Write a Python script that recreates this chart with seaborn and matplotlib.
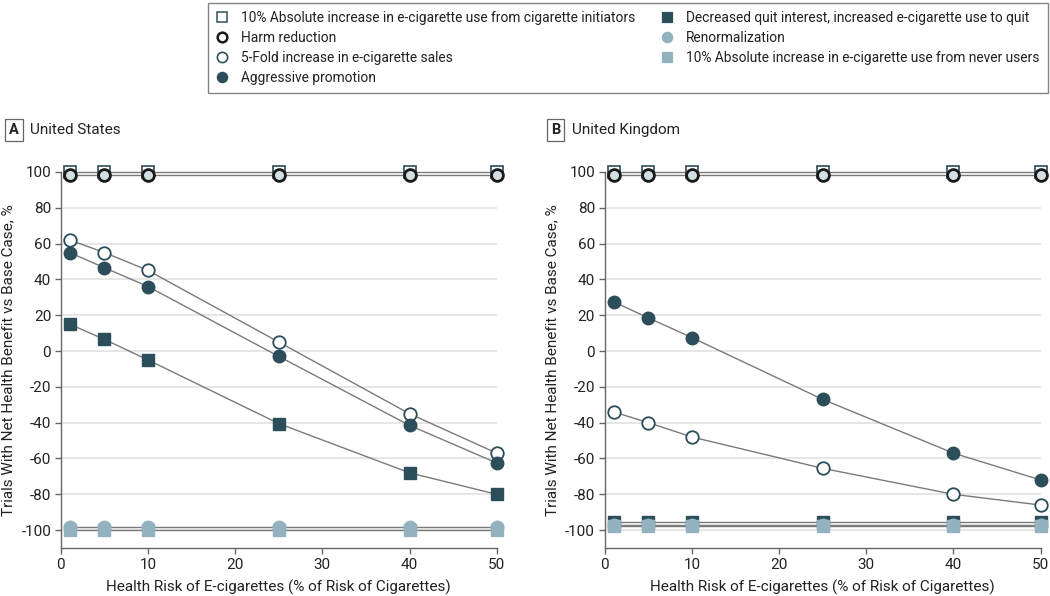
import matplotlib
matplotlib.use("Agg")
import matplotlib.pyplot as plt
from matplotlib.lines import Line2D
from matplotlib.patches import Rectangle
import seaborn as sns
import pandas as pd

# ---------------- data ----------------
risk = [1, 5, 10, 25, 40, 50]

series_names = [
    "10% Absolute increase in e-cigarette use from cigarette initiators",
    "Harm reduction",
    "5-Fold increase in e-cigarette sales",
    "Aggressive promotion",
    "Decreased quit interest, increased e-cigarette use to quit",
    "Renormalization",
    "10% Absolute increase in e-cigarette use from never users",
]

us_initiators = [100, 100, 100, 100, 100, 100]
us_harm = [98.5, 98.5, 98.5, 98.5, 98.5, 98.5]
us_fivefold = [62, 55, 45, 5, -35, -57]
us_aggressive = [55, 46.5, 36, -3, -41.5, -62.5]
us_decreased = [15, 6.5, -5, -40.5, -68, -80]
us_renorm = [-98, -98, -98, -98, -98, -98]
us_never = [-100, -100, -100, -100, -100, -100]

uk_initiators = [100, 100, 100, 100, 100, 100]
uk_harm = [98.5, 98.5, 98.5, 98.5, 98.5, 98.5]
uk_fivefold = [-34, -40, -48, -65.5, -80, -86]
uk_aggressive = [27.5, 18.5, 7.5, -27, -57, -72]
uk_decreased = [-95.5, -95.5, -95.5, -95.5, -95.5, -95.5]
uk_renorm = [-97, -97, -97, -97, -97, -97]
uk_never = [-97.5, -97.5, -97.5, -97.5, -97.5, -97.5]

panel_letters = ["A", "B"]
panel_titles = ["United States", "United Kingdom"]
x_ticks = [0, 10, 20, 30, 40, 50]
y_ticks = [-100, -80, -60, -40, -20, 0, 20, 40, 60, 80, 100]
x_label = "Health Risk of E-cigarettes (% of Risk of Cigarettes)"
y_label = "Trials With Net Health Benefit vs Base Case, %"

# ---------------- style ----------------
DARK = "#2c4d5a"
LIGHT = "#93b2bf"
LINE = "#7a7a7a"
TEXT = "#222222"

sns.set_style("white")
plt.rcParams["font.family"] = ["Roboto", "DejaVu Sans"]

styles = [
    dict(marker="s", mfc="white", mec=DARK, ms=8.0, mew=1.2),     # initiators
    dict(marker="o", mfc="#d3dfe4", mec="#1a1a1a", ms=8.5, mew=2.0),  # harm
    dict(marker="o", mfc="white", mec=DARK, ms=9.0, mew=1.3),     # 5-fold
    dict(marker="o", mfc=DARK, mec=DARK, ms=9.0, mew=1.0),        # aggressive
    dict(marker="s", mfc=DARK, mec=DARK, ms=8.5, mew=1.0),        # decreased
    dict(marker="o", mfc=LIGHT, mec=LIGHT, ms=9.0, mew=1.0),      # renorm
    dict(marker="s", mfc=LIGHT, mec=LIGHT, ms=8.5, mew=1.0),      # never users
]
draw_order = [0, 4, 6, 5, 1, 2, 3]

fig = plt.figure(figsize=(10.5, 5.96), dpi=100)
ax_pos = [[0.058, 0.0805, 0.415, 0.631], [0.576, 0.0805, 0.415, 0.631]]

panels = [
    [us_initiators, us_harm, us_fivefold, us_aggressive, us_decreased, us_renorm, us_never],
    [uk_initiators, uk_harm, uk_fivefold, uk_aggressive, uk_decreased, uk_renorm, uk_never],
]

for p, (vals, pos) in enumerate(zip(panels, ax_pos)):
    ax = fig.add_axes(pos)
    for yv in y_ticks:
        ax.axhline(yv, color="#e2e2e2", lw=1.2, zorder=0)
    for z, i in enumerate(draw_order):
        df = pd.DataFrame({"x": risk, "y": vals[i]})
        st = styles[i]
        sns.lineplot(data=df, x="x", y="y", ax=ax, color=LINE, lw=1.0,
                     marker=st["marker"], markersize=st["ms"],
                     markerfacecolor=st["mfc"], markeredgecolor=st["mec"],
                     markeredgewidth=st["mew"], clip_on=False, zorder=3 + z,
                     legend=False)
    ax.set_xlim(0, 50)
    ax.set_ylim(-110, 100)
    ax.set_xticks(x_ticks)
    ax.set_yticks(y_ticks)
    ax.set_yticklabels([str(v) for v in y_ticks])
    for s in ["top", "right"]:
        ax.spines[s].set_visible(False)
    for s in ["left", "bottom"]:
        ax.spines[s].set_color("#666666")
        ax.spines[s].set_linewidth(1.0)
    ax.tick_params(axis="both", which="both", direction="out", length=4,
                   width=1.0, color="#666666", labelsize=11, labelcolor=TEXT,
                   bottom=True, left=True, pad=3)
    ax.set_xlabel(x_label, fontsize=11, color=TEXT, labelpad=6)
    ax.set_ylabel(y_label, fontsize=11, color=TEXT, labelpad=4)

    # panel label
    fx = 0.005 if p == 0 else 0.521
    fig.text(fx + 0.0085, 0.782, panel_letters[p], fontsize=10.5, fontweight="bold",
             ha="center", va="center", color=TEXT)
    fig.patches.append(Rectangle((fx, 0.764), 0.0165, 0.036, transform=fig.transFigure,
                                 fill=False, edgecolor="#666666", lw=0.9))
    fig.text(fx + 0.024, 0.782, panel_titles[p], fontsize=11, ha="left",
             va="center", color=TEXT)

# legend
handles = []
for i, name in enumerate(series_names):
    st = styles[i]
    handles.append(Line2D([], [], linestyle="none", marker=st["marker"],
                          markersize=st["ms"] * 0.82, markerfacecolor=st["mfc"] if i != 1 else "white",
                          markeredgecolor=st["mec"], markeredgewidth=st["mew"] * 0.9,
                          label=name))
leg = fig.legend(handles=handles, ncol=2, loc="upper left",
                 bbox_to_anchor=(0.198, 0.846, 0.800, 0.149), mode="expand",
                 borderaxespad=0.0, frameon=True, fancybox=False,
                 fontsize=9.9, handlelength=0.8, handletextpad=1.0,
                 labelspacing=0.42, columnspacing=1.4, borderpad=0.6,
                 labelcolor=TEXT)
leg.get_frame().set_edgecolor("#666666")
leg.get_frame().set_linewidth(1.0)

fig.savefig("out.png", dpi=100)
